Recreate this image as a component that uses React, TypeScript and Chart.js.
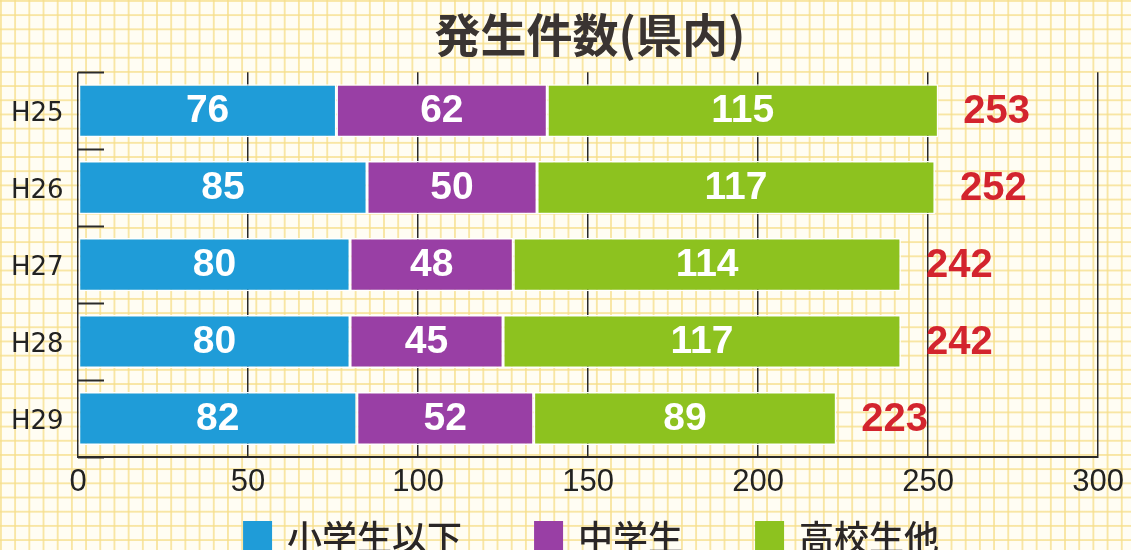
import React, { useEffect, useRef } from 'react';
import { Chart, registerables } from 'chart.js';

Chart.register(...registerables);

const titleText = '発生件数(県内)';
const categories = ['H25', 'H26', 'H27', 'H28', 'H29'];
const seriesLabels = ['小学生以下', '中学生', '高校生他'];
const elementary = [76, 85, 80, 80, 82];
const juniorHigh = [62, 50, 48, 45, 52];
const highSchool = [115, 117, 114, 117, 89];
const seriesColors = ['#1f9cd8', '#993fa5', '#8dc21f'];
const xTicks = [0, 50, 100, 150, 200, 250, 300];

const valueLabels = {
  id: 'valueLabels',
  afterDatasetsDraw(chart: any) {
    const ctx = chart.ctx;
    ctx.save();
    ctx.textAlign = 'center';
    ctx.textBaseline = 'middle';
    ctx.font = 'bold 39px "Liberation Sans", Arial, sans-serif';
    ctx.fillStyle = '#ffffff';
    chart.data.datasets.forEach((ds: any, i: number) => {
      const meta = chart.getDatasetMeta(i);
      meta.data.forEach((el: any, j: number) => {
        const p = el.getCenterPoint();
        ctx.fillText(String(ds.data[j]), p.x, p.y + 1);
      });
    });
    const last = chart.getDatasetMeta(chart.data.datasets.length - 1);
    ctx.font = 'bold 40px "Liberation Sans", Arial, sans-serif';
    ctx.fillStyle = '#d3242e';
    ctx.textAlign = 'left';
    last.data.forEach((el: any, j: number) => {
      const total = chart.data.datasets.reduce((s: number, ds: any) => s + ds.data[j], 0);
      ctx.fillText(String(total), el.x + 25, el.y + 1);
    });
    ctx.restore();
  },
};

const customLegend = {
  id: 'customLegend',
  afterDraw(chart: any) {
    const ctx = chart.ctx;
    const area = chart.chartArea;
    const box = 29;
    const gapText = 15;
    const gapItem = 72;
    ctx.save();
    ctx.font = '500 35px "Noto Sans CJK JP", sans-serif';
    const items = chart.data.datasets.map((ds: any) => {
      const w = ctx.measureText(ds.label).width;
      return { label: ds.label, color: ds.backgroundColor, width: box + gapText + w };
    });
    const total = items.reduce((s: number, it: any) => s + it.width, 0) + gapItem * (items.length - 1);
    let x = (area.left + area.right) / 2 + 3 - total / 2;
    const top = 521;
    ctx.textBaseline = 'middle';
    ctx.textAlign = 'left';
    items.forEach((it: any) => {
      ctx.fillStyle = it.color;
      ctx.fillRect(x, top, box, box);
      ctx.fillStyle = '#2a2626';
      ctx.fillText(it.label, x + box + gapText, top + 17);
      x += it.width + gapItem;
    });
    ctx.restore();
  },
};

export default function App() {
  const ref = useRef<HTMLCanvasElement>(null);

  useEffect(() => {
    if (!ref.current) return;
    const seriesData = [elementary, juniorHigh, highSchool];
    const chart = new Chart(ref.current, {
      type: 'bar',
      data: {
        labels: categories,
        datasets: seriesLabels.map((label, i) => ({
          label,
          data: seriesData[i],
          backgroundColor: seriesColors[i],
          borderColor: '#ffffff',
          borderWidth: 1.5,
          borderSkipped: false,
          categoryPercentage: 1,
          barPercentage: 0.69,
        })),
      },
      options: {
        indexAxis: 'y',
        responsive: false,
        animation: false,
        layout: { padding: { left: 78, right: 29, top: 0, bottom: 0 } },
        plugins: {
          legend: { display: false },
          tooltip: { enabled: false },
          title: {
            display: true,
            text: titleText,
            color: '#3a3432',
            font: { family: '"Noto Sans CJK JP", sans-serif', size: 46, weight: 'bold' },
            padding: { top: 7, bottom: 10 },
          },
        },
        scales: {
          x: {
            stacked: true,
            min: 0,
            max: 300,
            afterBuildTicks: (s: any) => {
              s.ticks = xTicks.map((v) => ({ value: v }));
            },
            afterFit: (s: any) => {
              s.height = 93;
            },
            grid: {
              color: '#2a2a2a',
              lineWidth: 1.5,
              drawTicks: false,
            },
            border: { display: true, color: '#2a2a2a', width: 2 },
            ticks: {
              padding: 7,
              color: '#222',
              font: { family: '"Liberation Sans", Arial, sans-serif', size: 31 },
            },
          },
          y: {
            stacked: true,
            afterFit: (s: any) => {
              s.width = 0;
            },
            grid: {
              display: true,
              drawOnChartArea: false,
              drawTicks: true,
              tickLength: -26,
              tickColor: '#2a2a2a',
              tickWidth: 2,
            },
            border: { display: false },
            ticks: {
              mirror: true,
              crossAlign: 'near',
              padding: -67,
              labelOffset: 4,
              color: '#222',
              font: { family: '"DejaVu Sans", sans-serif', size: 26 },
            },
          },
        },
      },
      plugins: [valueLabels, customLegend],
    });
    return () => chart.destroy();
  }, []);

  return (
    <div
      style={{
        position: 'fixed',
        left: 0,
        top: 0,
        width: 1131,
        height: 550,
        overflow: 'hidden',
        backgroundColor: '#fffdf3',
        backgroundImage:
          'linear-gradient(to right, rgba(246,222,138,0.75) 2px, transparent 2px), linear-gradient(to bottom, rgba(246,222,138,0.75) 2px, transparent 2px)',
        backgroundSize: '14.2px 14.2px',
      }}
    >
      <canvas ref={ref} width={1131} height={550} style={{ display: 'block', width: 1131, height: 550 }} />
    </div>
  );
}
